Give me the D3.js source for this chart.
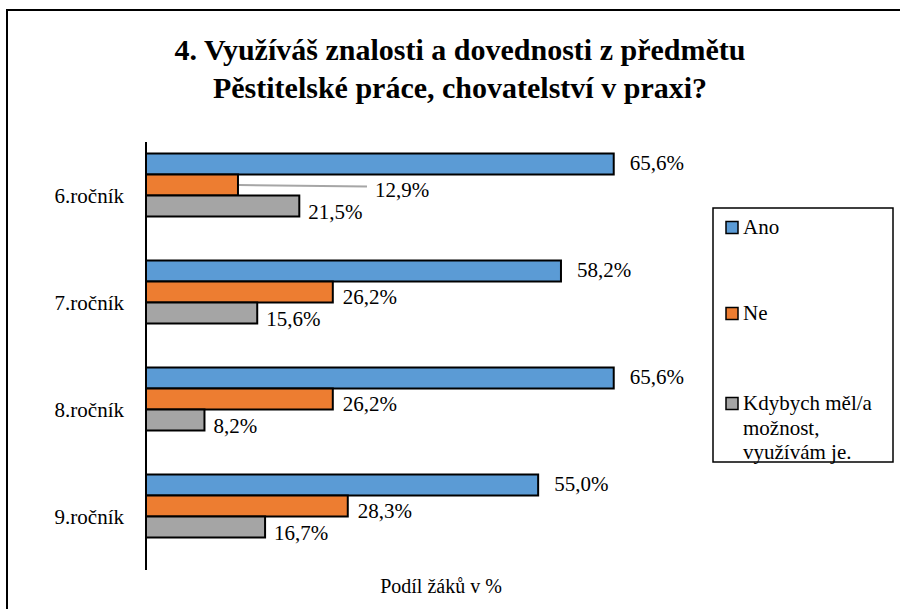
<!DOCTYPE html>
<html><head><meta charset="utf-8">
<script src="https://cdn.jsdelivr.net/npm/d3@7/dist/d3.min.js"></script>
<style>
html,body{margin:0;padding:0;background:#fff;}
svg, svg text, svg tspan{font-family:"Liberation Serif", serif !important;}
</style></head>
<body><svg id="c" width="900" height="609" font-family="Liberation Serif"></svg>
<script>
const titleLines = ["4. Využíváš znalosti a dovednosti z předmětu", "Pěstitelské práce, chovatelství v praxi?"];
const categories = ["6.ročník", "7.ročník", "8.ročník", "9.ročník"];
const seriesNames = ["Ano", "Ne", "Kdybych měl/a možnost, využívám je."];
const legendLines = [["Ano"], ["Ne"], ["Kdybych měl/a", "možnost,", "využívám je."]];
const seriesColors = ["#5B9BD5", "#ED7D31", "#A5A5A5"];
const ano = [65.6, 58.2, 65.6, 55.0];
const ne = [12.9, 26.2, 26.2, 28.3];
const kdybych = [21.5, 15.6, 8.2, 16.7];
const axisTitle = "Podíl žáků v %";

const values = [ano, ne, kdybych];
const FONT = "Liberation Serif";
const svg = d3.select("#c");
function txt(sel){ return sel.attr("font-family", FONT).style("font-family", FONT); }

// outer frame
svg.append("rect").attr("x",7).attr("y",10).attr("width",900).attr("height",700)
  .attr("fill","none").attr("stroke","#000").attr("stroke-width",2);

// title
const title = txt(svg.append("text").attr("text-anchor","middle")
  .attr("font-size",30).attr("font-weight","bold"));
titleLines.forEach((t,i)=>{
  txt(title.append("tspan")).attr("x",460).attr("y",60+i*38).text(t);
});

const x = d3.scaleLinear().domain([0,100]).range([146,859]);
const y0 = d3.scaleBand().domain(categories).range([142,570]).paddingInner(0.215).paddingOuter(0.1075);
const y1 = d3.scaleBand().domain(seriesNames).range([0, y0.bandwidth()*0.75]);

const fmt = v => v.toFixed(1).replace(".", ",") + "%";
const labelDx = [16, 10, 9];
const labelDy = [-1, 5, 6];

categories.forEach((c,ci)=>{
  seriesNames.forEach((s,si)=>{
    const v = values[si][ci];
    svg.append("rect")
      .attr("x", x(0)).attr("y", y0(c)+y1(s))
      .attr("width", x(v)-x(0)).attr("height", y1.bandwidth())
      .attr("fill", seriesColors[si]).attr("stroke","#000").attr("stroke-width",2);
  });
});

// labels
categories.forEach((c,ci)=>{
  seriesNames.forEach((s,si)=>{
    const v = values[si][ci];
    let lx = x(v)+labelDx[si];
    const ly = y0(c)+y1(s)+y1.bandwidth()/2+labelDy[si];
    if (ci===0 && si===1) {
      const shifted = lx + 127;
      svg.append("line").attr("x1",x(v)+1).attr("y1",y0(c)+y1(s)+y1.bandwidth()/2)
        .attr("x2",shifted-8).attr("y2",y0(c)+y1(s)+y1.bandwidth()/2+1.5)
        .attr("stroke","#A6A6A6").attr("stroke-width",2);
      lx = shifted;
    }
    txt(svg.append("text")).attr("x",lx).attr("y",ly+7)
      .attr("font-size",21).text(fmt(v));
  });
});

// category axis
svg.append("line").attr("x1",x(0)).attr("x2",x(0)).attr("y1",142).attr("y2",570)
  .attr("stroke","#000").attr("stroke-width",2);
categories.forEach(c=>{
  txt(svg.append("text")).attr("x",124).attr("y",y0(c)+y0.bandwidth()/2+7)
    .attr("text-anchor","end").attr("font-size",21).text(c);
});

// axis title
txt(svg.append("text")).attr("x",441).attr("y",593).attr("text-anchor","middle")
  .attr("font-size",20).text(axisTitle);

// legend
svg.append("rect").attr("x",713).attr("y",208).attr("width",180).attr("height",254)
  .attr("fill","#fff").attr("stroke","#000").attr("stroke-width",1.5);
const legY = [227, 313, 403];
seriesNames.forEach((s,si)=>{
  svg.append("rect").attr("x",726).attr("y",legY[si]-5.5).attr("width",12).attr("height",12)
    .attr("fill",seriesColors[si]).attr("stroke","#000").attr("stroke-width",1.5);
  legendLines[si].forEach((t,li)=>{
    txt(svg.append("text")).attr("x",743).attr("y",legY[si]+li*24.5+7)
      .attr("font-size",21).text(t);
  });
});
</script></body></html>
